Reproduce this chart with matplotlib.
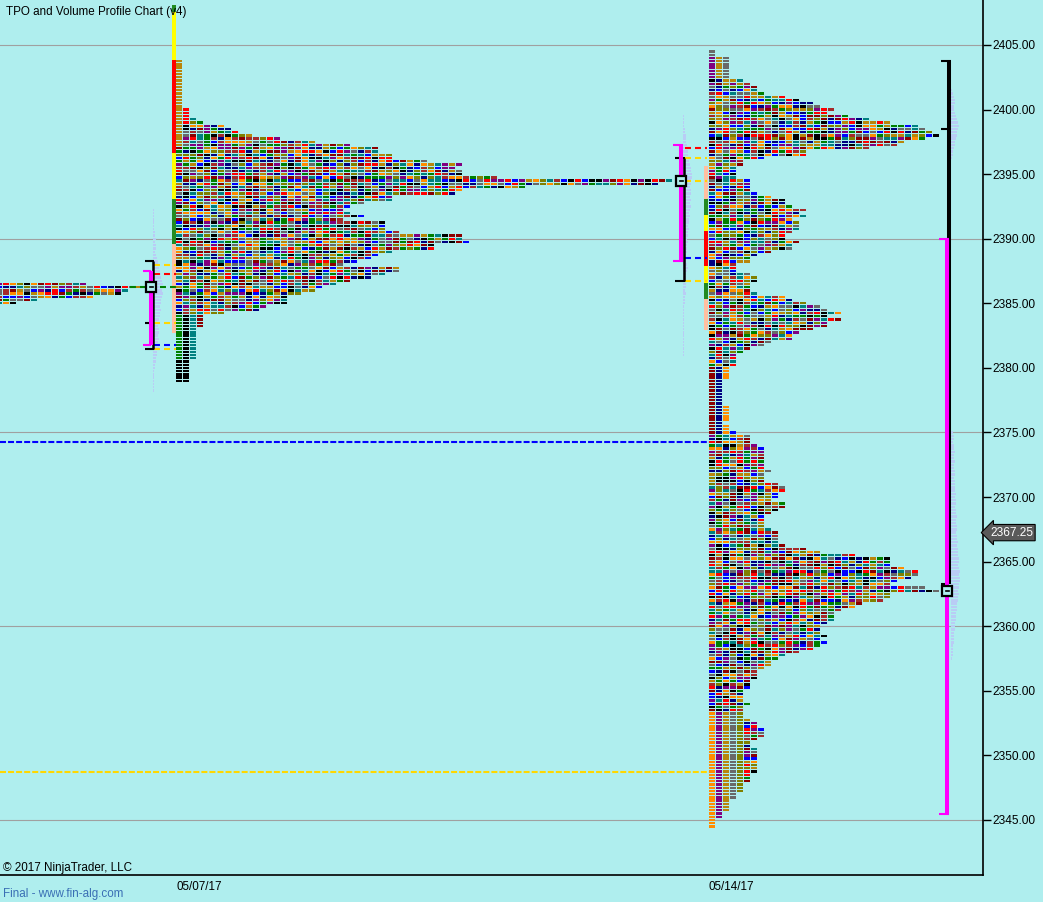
import matplotlib
matplotlib.use("Agg")
import matplotlib.pyplot as plt
from matplotlib.collections import PolyCollection
from matplotlib import transforms

plt.rcParams['font.family'] = ['Liberation Sans', 'DejaVu Sans']
plt.rcParams['lines.scale_dashes'] = False

BG = '#AFEEEE'
TICK = 0.25

# ---------------- data ----------------
price_ticks = [2345, 2350, 2355, 2360, 2365, 2370, 2375, 2380, 2385, 2390, 2395, 2400, 2405]
grid_prices = [2345, 2360, 2375, 2390, 2405]
date_labels = ['05/07/17', '05/14/17']
last_price = 2367.25

# previous session (cut off at left edge)
prev_top = 2386.5
prev_counts = [13, 21, 19, 18, 14, 6, 3]

# session 05/07/17 TPO counts per 0.25 row, from top price downward
p1_top = 2403.75
p1_counts = [1, 1, 1, 1, 1, 1, 1, 1, 1, 1,
             1, 1, 1, 1, 1, 2, 2, 2, 3, 4,
             7, 8, 9, 11, 15, 20, 25, 29, 29, 31,
             31, 36, 41, 40, 41, 41, 46, 71, 69, 50,
             41, 40, 31, 31, 27, 25, 24, 25, 27, 24,
             30, 30, 30, 32, 41, 41, 42, 37, 37, 31,
             29, 28, 26, 24, 32, 32, 30, 28, 25, 23,
             21, 20, 18, 16, 16, 16, 13, 12, 7, 4,
             4, 4, 4, 3, 3, 3, 3, 3, 3, 3,
             3, 3, 3, 2, 2, 2, 2, 2, 2, 2]

# session 05/14/17 TPO counts
p2_top = 2404.5
p2_counts = [1, 1, 3, 3, 3, 3, 3, 3, 3, 5,
             6, 7, 7, 8, 11, 13, 15, 16, 18, 17,
             20, 23, 26, 30, 31, 32, 33, 31, 28, 27,
             23, 14, 14, 8, 5, 5, 4, 4, 4, 4,
             6, 6, 6, 6, 7, 9, 11, 11, 12, 14,
             13, 14, 12, 13, 13, 13, 12, 11, 11, 13,
             12, 12, 9, 7, 6, 6, 4, 4, 4, 6,
             7, 7, 6, 6, 6, 7, 11, 12, 14, 16,
             17, 19, 17, 19, 17, 17, 15, 13, 12, 12,
             9, 8, 6, 5, 4, 4, 4, 4, 3, 3,
             3, 3, 2, 2, 2, 2, 2, 2, 2, 2,
             3, 3, 3, 3, 3, 2, 3, 3, 4, 6,
             6, 6, 7, 8, 8, 8, 8, 8, 8, 8,
             9, 8, 8, 8, 10, 11, 11, 10, 10, 9,
             11, 11, 10, 9, 8, 8, 8, 8, 9, 10,
             10, 10, 10, 11, 14, 16, 21, 26, 26, 26,
             28, 30, 30, 29, 27, 26, 31, 33, 26, 26,
             25, 22, 21, 19, 18, 18, 18, 17, 16, 16,
             16, 17, 16, 17, 16, 15, 13, 11, 10, 9,
             9, 8, 7, 7, 7, 6, 6, 6, 5, 5,
             5, 5, 6, 5, 5, 5, 5, 6, 7, 7,
             8, 8, 8, 7, 6, 6, 7, 7, 7, 7,
             7, 7, 7, 7, 6, 6, 6, 5, 5, 5,
             4, 4, 3, 3, 3, 3, 2, 2, 1, 1,
             1]

# period colour bars beside first TPO column: (top, bottom, colour)
p1_periods = [(2408.1, 2407.55, '#228B22'), (2407.55, 2403.85, '#FFFF00'),
              (2403.85, 2396.65, '#FF0000'), (2396.65, 2393.1, '#FFFF00'),
              (2393.1, 2389.6, '#228B22'), (2389.6, 2382.7, '#FFBFA0')]
p2_periods = [(2395.65, 2393.1, '#FFBFA0'), (2393.1, 2391.85, '#228B22'),
              (2391.85, 2390.6, '#FFFF00'), (2390.6, 2387.9, '#FF0000'),
              (2387.9, 2386.6, '#FFFF00'), (2386.6, 2385.35, '#228B22'),
              (2385.35, 2382.9, '#FFBFA0')]

# volume profiles (relative widths per 0.25 row, top downward)
vol1_top = 2392.25
vol1 = [1, 1, 1, 1, 1, 1, 1,
        2, 2, 3, 2, 3, 3, 2,
        3, 4, 5, 5, 6,
        7, 8, 8, 9,
        10, 10, 9, 10, 9,
        8, 8, 7, 8, 7, 7,
        6, 6, 5, 6, 6, 5,
        6, 5, 5, 6, 4, 4, 3, 3,
        2, 2, 1, 1, 1, 1, 1, 1, 1]
vol2_top = 2399.5
vol2 = [1, 1, 1, 1,
        2, 2, 3, 3, 3,
        4, 4, 5, 5, 6, 6,
        7, 8, 8, 9, 9, 8, 8, 7,
        8, 8, 7, 8, 7, 8, 7, 6, 7, 6,
        6, 5, 6, 5, 5, 4, 5, 4, 4, 4,
        3, 4, 3, 4, 5, 4, 3, 3, 4, 3,
        3, 2, 3, 2, 2, 2,
        1, 1, 1, 1, 1, 1, 1, 1, 1, 1, 1, 1, 1, 1, 1, 1]
vol3a_top = 2401.5
vol3a = [1, 2, 3, 4, 4, 3, 3, 4, 5, 6, 7, 8, 7, 6, 6, 5, 4, 4, 3, 2, 2, 1]
vol3b_top = 2375.0
vol3b = [2, 3, 3, 2, 3, 3, 4, 3, 3, 4, 3, 3, 4, 4, 3, 4, 4,
         4, 4, 5, 4, 5, 5, 4, 5, 5, 6, 5, 5, 6, 6, 5, 6, 6, 7, 6, 7,
         7, 7, 8, 8, 7, 8, 9, 8, 9, 9, 8, 8, 7, 8, 7, 7, 6, 6,
         6, 5, 5, 5, 4, 4, 4, 3, 3, 3, 3, 2, 2, 2, 2, 1]

# reference levels
p1_va = (2387.5, 2381.75)
p1_range = (2388.25, 2381.5)
p1_mid = 2383.5
p1_poc = 2386.25
p1_dashes = [(2388.0, '#FFD700'), (2387.25, '#FF0000'), (2383.5, '#FFD700'),
             (2381.75, '#0000FF'), (2381.5, '#FFD700')]
p2_va = (2397.25, 2388.25)
p2_range = (2396.25, 2386.75)
p2_poc = 2394.5
p2_dashes = [(2397.0, '#FF0000'), (2396.25, '#FFD700'), (2394.5, '#FFD700'),
             (2388.5, '#0000FF'), (2386.75, '#FFD700')]
comp_range = (2403.75, 2363.25)
comp_mid = 2398.5
comp_va = (2390.0, 2345.5)
comp_poc = 2362.75
naked_levels = [(2374.25, '#0000FF'), (2348.75, '#FFD700')]

palette = ['#B8860B', '#FF0000', '#696969', '#800080', '#FF8C00', '#808000', '#0000FF',
           '#000080', '#A52A2A', '#008000', '#8B0000', '#008080', '#000000']

# ---------------- layout ----------------
W, H = 1043, 902
AX_R, AX_B = 983, 875
PX_PER_PT = 775 / 60.0
y_top = 2405 + 45 / PX_PER_PT
y_bot = 2405 - (AX_B - 45) / PX_PER_PT
PITCH, BW = 7, 6
BH = 2.3 / PX_PER_PT

fig = plt.figure(figsize=(W / 100, H / 100), dpi=100, facecolor=BG)
ax = fig.add_axes([0, (H - AX_B) / H, AX_R / W, AX_B / H])
ax.set_facecolor(BG)
ax.set_xlim(0, AX_R)
ax.set_ylim(y_bot, y_top)

for g in grid_prices:
    ax.axhline(g, color='#A0A0A0', lw=0.8, zorder=1)


def cidx(i, k, seed):
    h = (i * 2654435761 + k * 40503 + seed * 977) & 0xFFFFFFFF
    h ^= (h >> 13)
    h = (h * 1274126177) & 0xFFFFFFFF
    h ^= (h >> 16)
    return h % len(palette)


def draw_tpo(x0, top, counts, seed, override=None):
    verts, cols = [], []
    for i, c in enumerate(counts):
        p = top - TICK * i
        for k in range(c):
            xl = x0 + PITCH * k
            verts.append([(xl, p - BH / 2), (xl + BW, p - BH / 2),
                          (xl + BW, p + BH / 2), (xl, p + BH / 2)])
            col = override(i, k) if override else None
            cols.append(col if col else palette[cidx(i, k, seed)])
    pc = PolyCollection(verts, facecolors=cols, edgecolors='none', antialiased=False, zorder=3)
    ax.add_collection(pc)


def ov1(i, k):
    if k == 0 and i < 27:
        return '#B8860B'
    if k == 1 and 15 <= i <= 19:
        return '#FF0000'
    if i >= 79:
        return {0: ('#008000' if i < 93 else '#000000'), 1: '#000000', 2: '#008080', 3: '#8B0000'}.get(k)
    return None


def ov2(i, k):
    if i < 9:
        return {0: ('#696969' if i < 2 else '#800080'), 1: '#B8860B', 2: '#696969'}.get(k)
    if 98 <= i <= 118:
        return {0: '#8B0000', 1: '#000080', 2: '#FF8C00'}.get(k)
    if i >= 205:
        return {0: '#FF8C00', 1: '#800080', 2: '#B8860B', 3: '#696969', 4: '#808000'}.get(k)
    return None


draw_tpo(-4, prev_top, prev_counts, 3)
draw_tpo(176, p1_top, p1_counts, 11, ov1)
draw_tpo(709, p2_top, p2_counts, 29, ov2)

# period colour bars
for x, segs in ((172, p1_periods), (704, p2_periods)):
    for top, bot, col in segs:
        ax.bar(x, top - bot, bottom=bot, width=4, align='edge', color=col, lw=0, zorder=4)


def draw_vol(x0, top, widths):
    ps = [top - TICK * i for i in range(len(widths))]
    ax.barh(ps, widths, left=x0, height=BH, color='#B9CCF5', lw=0, zorder=2, antialiased=False)


draw_vol(153, vol1_top, vol1)
draw_vol(683, vol2_top, vol2)
draw_vol(951, vol3a_top, vol3a)
draw_vol(951, vol3b_top, vol3b)

# long reference dashed lines
for lvl, col in naked_levels:
    ax.plot([0, 709], [lvl, lvl], color=col, lw=1.5, ls=(0, (4.3, 1.5)), zorder=5)

PT4 = 2.9
PT2 = 1.5


def vline(x, a, b, col, lw=PT4):
    ax.plot([x, x], [a, b], color=col, lw=lw, solid_capstyle='butt', zorder=6)


def hline(x1, x2, y, col, lw=PT2):
    ax.plot([x1, x2], [y, y], color=col, lw=lw, solid_capstyle='butt', zorder=6)


def poc_box(x1, x2, y):
    ax.plot([(x1 + x2) / 2], [y], marker='s', ms=6.5, mfc=BG, mec='black', mew=1.6, zorder=8)
    ax.plot([(x1 + x2) / 2 - 1.5, (x1 + x2) / 2 + 1.5], [y, y], color='black', lw=1.2, zorder=9)


# session 1 markers
for lvl, col in p1_dashes:
    ax.plot([154, 176], [lvl, lvl], color=col, lw=1.5, ls=(0, (4.3, 2.9)), zorder=5)
ax.plot([130, 176], [p1_poc, p1_poc], color='#008000', lw=1.5, ls=(0, (4.3, 2.9)), zorder=5)
vline(152.8, p1_range[0], p1_range[1], 'black', lw=1.8)
hline(145, 154, p1_range[0], 'black')
hline(145, 154, p1_range[1], 'black')
hline(145, 152, p1_mid, 'black')
vline(150.5, p1_va[0], p1_va[1], '#FF00FF')
hline(143, 151, p1_va[0], '#FF00FF')
hline(143, 151, p1_va[1], '#FF00FF')
poc_box(147, 155, p1_poc)

# session 2 markers
for lvl, col in p2_dashes:
    ax.plot([685, 707], [lvl, lvl], color=col, lw=1.5, ls=(0, (4.3, 2.9)), zorder=5)
vline(684, p2_range[0], p2_range[1], 'black', lw=1.8)
hline(675, 685, p2_range[0], 'black')
hline(675, 685, p2_range[1], 'black')
vline(681, p2_va[0], p2_va[1], '#FF00FF')
hline(673, 683, p2_va[0], '#FF00FF')
hline(673, 683, p2_va[1], '#FF00FF')
poc_box(677, 685, p2_poc)

# composite markers
vline(949, comp_range[0], comp_range[1], 'black')
hline(941, 951, comp_range[0], 'black')
hline(941, 947, comp_mid, 'black')
hline(941, 945, comp_range[1], 'black')
vline(947, comp_va[0], comp_va[1], '#FF00FF')
hline(939, 949, comp_va[0], '#FF00FF')
hline(939, 949, comp_va[1], '#FF00FF')
poc_box(943, 951, comp_poc)

# axes styling
for s in ('left', 'top'):
    ax.spines[s].set_visible(False)
ax.spines['right'].set_color('black')
ax.spines['bottom'].set_color('black')
ax.spines['right'].set_linewidth(1.2)
ax.spines['bottom'].set_linewidth(1.2)
ax.yaxis.tick_right()
ax.set_yticks(price_ticks)
ax.set_yticklabels([f'{v:.2f}' for v in price_ticks])
ax.tick_params(axis='y', length=6, width=1, pad=1, labelsize=8.6, colors='black')
ax.set_xticks([199, 731])
ax.set_xticklabels(date_labels)
ax.tick_params(axis='x', length=0, pad=4, labelsize=8.4)

# last price tag
tr = transforms.blended_transform_factory(ax.transAxes, ax.transData)
ax.text(1.0 + 7 / AX_R, last_price, f'{last_price:.2f}', transform=tr, ha='left', va='center',
        fontsize=8.6, color='white', clip_on=False, zorder=10,
        bbox=dict(boxstyle='larrow,pad=0.18', fc='#5A5A5A', ec='black', lw=0.8))

fig.text(6 / W, 1 - 12 / H, 'TPO and Volume Profile Chart (v4)', fontsize=8.4, ha='left', va='center')
fig.text(3 / W, 1 - 868 / H, '\u00a9 2017 NinjaTrader, LLC', fontsize=8.4, ha='left', va='center')
fig.text(3 / W, 1 - 894 / H, 'Final - www.fin-alg.com', fontsize=8.4, ha='left', va='center', color='#3A6FB5')

fig.savefig('out.png', dpi=100, facecolor=BG)
